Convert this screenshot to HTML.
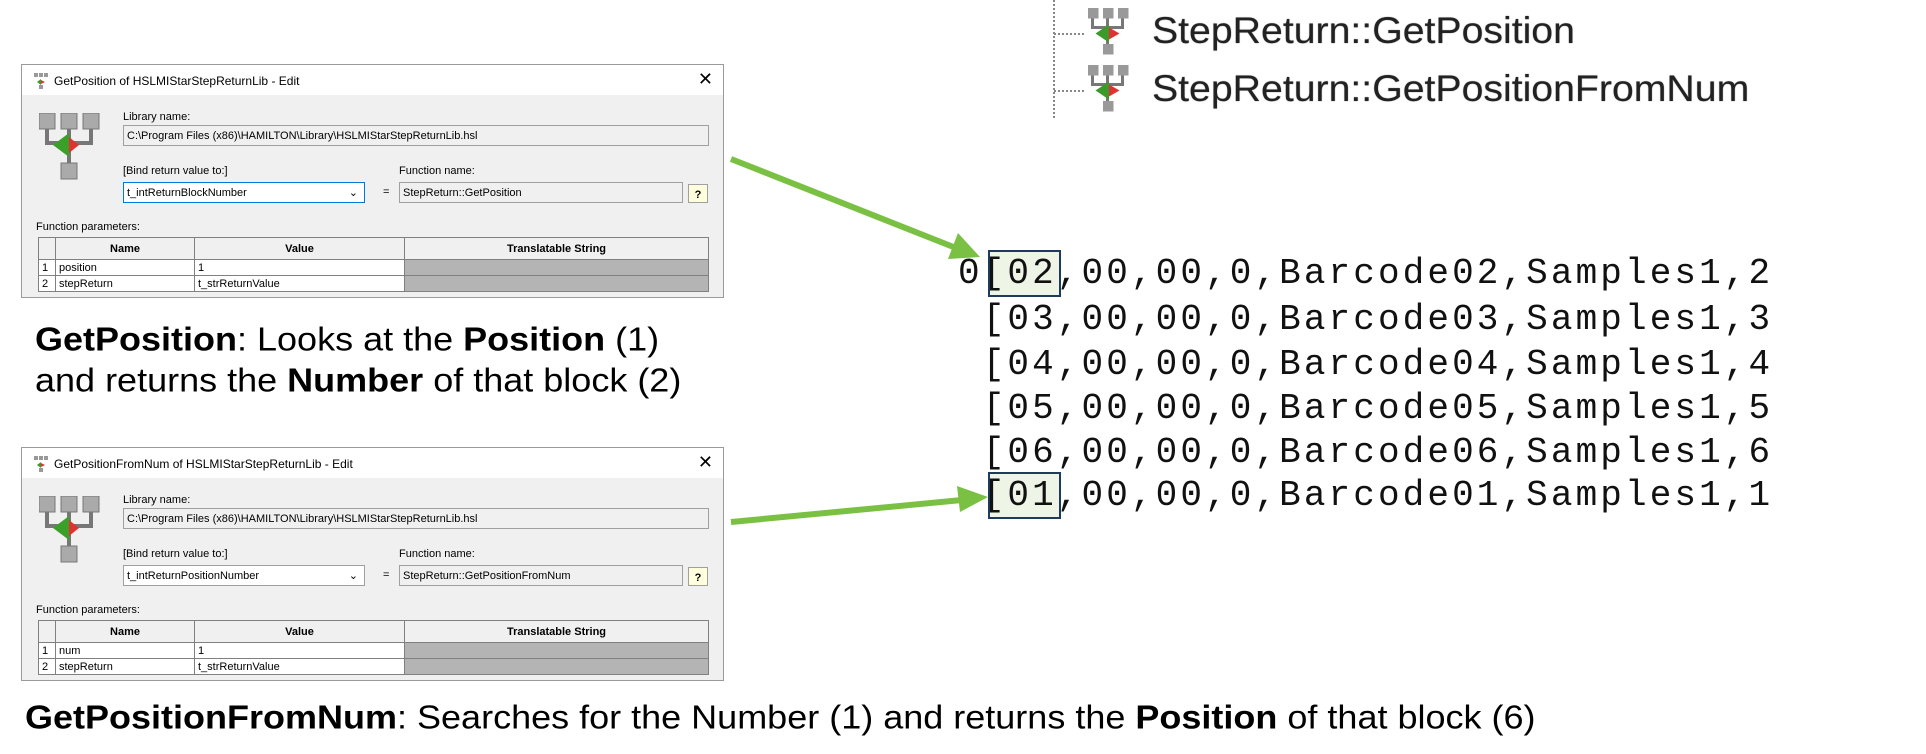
<!DOCTYPE html>
<html><head><meta charset="utf-8"><style>
body{margin:0;width:1926px;height:754px;background:#fff;position:relative;overflow:hidden;font-family:"Liberation Sans",Arial,sans-serif}
.a{position:absolute}
.dlg{position:absolute;left:21px;width:701px;height:232px;border:1px solid #9a9a9a;background:#f0f0f0;overflow:hidden;font-family:"Liberation Sans Narrow","Liberation Sans",sans-serif;font-size:11px;color:#000}
.dlg .tb{position:absolute;left:0;top:0;right:0;height:30px;background:#fff}
.dlg .tb span{position:absolute;left:32px;top:9px;font-size:12px}
.dlg .tb .x{left:auto;right:10px;top:4px;font-size:18px;font-weight:normal}
.fld{position:absolute;border:1px solid #a0a0a0;background:#f0f0f0;height:21px;line-height:21px;padding-left:3px;box-sizing:border-box}
.lbl{position:absolute}
table{position:absolute;left:16px;top:172px;border-collapse:collapse;width:671px;background:#fff}
td{border:1px solid #808080;height:15px;padding:0 3px;font-size:11px}
th{border:1px solid #808080;height:19px;font-size:11px;background:#f0f0f0}
.big{font-size:30px;color:#000;white-space:nowrap;transform:scale(1.2,1.1);transform-origin:left top}
.code{position:absolute;font-family:"Liberation Mono",monospace;font-size:36px;letter-spacing:3.1px;white-space:pre;color:#111;left:958px}
.tree{position:absolute;left:1152px;font-size:37px;color:#222;white-space:nowrap;text-shadow:0 0 1px #666;transform:scaleX(1.06);transform-origin:left top}
.hl{position:absolute;left:988px;width:69px;height:43px;border:2px solid #1f3b5c;background:#eef5e6}
</style></head><body>

<svg class="a" style="left:0;top:0" width="1926" height="754">
<line x1="1054" y1="0" x2="1054" y2="118" stroke="#888" stroke-width="2" stroke-dasharray="2,2"/>
<line x1="1054" y1="34" x2="1086" y2="34" stroke="#888" stroke-width="2" stroke-dasharray="2,2"/>
<line x1="1054" y1="91" x2="1086" y2="91" stroke="#888" stroke-width="2" stroke-dasharray="2,2"/>
<g id="ic" transform="translate(1088,8) scale(1.5)"><rect x="0" y="0" width="7" height="7" fill="#999"/><rect x="10" y="0" width="7" height="7" fill="#999"/><rect x="20" y="0" width="7" height="7" fill="#999"/><path d="M3 7v6h20v-6M13 7v18" stroke="#777" stroke-width="2" fill="none"/><polygon points="5,17 14,11 14,23" fill="#3a9a2a"/><polygon points="14,13 21,17 14,21" fill="#d33"/><rect x="10" y="24" width="7" height="7" fill="#999"/></g>
<use href="#ic" y="57"/>
<line x1="731" y1="159" x2="956" y2="248" stroke="#7ac143" stroke-width="6"/>
<polygon points="980,257 948,259 958,233" fill="#7ac143"/>
<line x1="731" y1="522" x2="962" y2="500" stroke="#7ac143" stroke-width="6"/>
<polygon points="988,497 960,512 957,486" fill="#7ac143"/>
</svg>

<div class="tree" style="top:10px">StepReturn::GetPosition</div>
<div class="tree" style="top:68px">StepReturn::GetPositionFromNum</div>

<div class="hl" style="top:250px"></div>
<div class="hl" style="top:472px"></div>
<div class="code" style="top:253px">0[02,00,00,0,Barcode02,Samples1,2</div>
<div class="code" style="top:299px"> [03,00,00,0,Barcode03,Samples1,3</div>
<div class="code" style="top:344px"> [04,00,00,0,Barcode04,Samples1,4</div>
<div class="code" style="top:388px"> [05,00,00,0,Barcode05,Samples1,5</div>
<div class="code" style="top:432px"> [06,00,00,0,Barcode06,Samples1,6</div>
<div class="code" style="top:475px"> [01,00,00,0,Barcode01,Samples1,1</div>

<div class="dlg" style="top:64px">
<div class="tb"><svg class="a" style="left:12px;top:8px" width="14" height="16"><rect x="0" y="0" width="4" height="4" fill="#999"/><rect x="5" y="0" width="4" height="4" fill="#999"/><rect x="10" y="0" width="4" height="4" fill="#999"/><polygon points="3,9 7,6 7,12" fill="#3a9a2a"/><polygon points="7,7 11,9 7,11" fill="#d33"/><rect x="5" y="12" width="4" height="4" fill="#999"/></svg><span>GetPosition of HSLMIStarStepReturnLib - Edit</span><span class="x">✕</span></div>
<div class="a" style="left:17px;top:48px;width:62px;height:66px"><svg width="64" height="70"><rect x="0" y="0" width="16" height="16" fill="#aaa" stroke="#777"/><rect x="22" y="0" width="16" height="16" fill="#aaa" stroke="#777"/><rect x="44" y="0" width="16" height="16" fill="#aaa" stroke="#777"/><path d="M8 16v14h44v-14M30 16v40" stroke="#777" stroke-width="4" fill="none"/><polygon points="14,32 30,20 30,44" fill="#3aa02a"/><polygon points="30,24 40,32 30,40" fill="#d33"/><rect x="22" y="50" width="16" height="16" fill="#aaa" stroke="#777"/></svg></div>
<div class="lbl" style="left:101px;top:46px">Library name:</div>
<div class="fld" style="left:101px;top:60px;width:586px">C:\Program Files (x86)\HAMILTON\Library\HSLMIStarStepReturnLib.hsl</div>
<div class="lbl" style="left:101px;top:100px">[Bind return value to:]</div>
<div class="fld" style="left:101px;top:117px;width:242px;background:#fff;border-color:#0078d7">t_intReturnBlockNumber<span style="position:absolute;right:6px">⌄</span></div>
<div class="lbl" style="left:361px;top:121px">=</div>
<div class="lbl" style="left:377px;top:100px">Function name:</div>
<div class="fld" style="left:377px;top:117px;width:284px">StepReturn::GetPosition</div>
<div class="fld" style="left:666px;top:119px;width:20px;height:19px;background:#ffd;font-weight:bold;text-align:center;padding:0">?</div>
<div class="lbl" style="left:14px;top:156px">Function parameters:</div>
<table><tr><th style="width:14px"></th><th style="width:136px">Name</th><th style="width:207px">Value</th><th>Translatable String</th></tr>
<tr><td>1</td><td>position</td><td>1</td><td style="background:#b4b4b4"></td></tr>
<tr><td>2</td><td>stepReturn</td><td>t_strReturnValue</td><td style="background:#b4b4b4"></td></tr></table>
</div>

<div class="a big" style="left:35px;top:322px"><b>GetPosition</b>: Looks at the <b>Position</b> (1)</div>
<div class="a big" style="left:35px;top:363px">and returns the <b>Number</b> of that block (2)</div>

<div class="dlg" style="top:447px">
<div class="tb"><svg class="a" style="left:12px;top:8px" width="14" height="16"><rect x="0" y="0" width="4" height="4" fill="#999"/><rect x="5" y="0" width="4" height="4" fill="#999"/><rect x="10" y="0" width="4" height="4" fill="#999"/><polygon points="3,9 7,6 7,12" fill="#3a9a2a"/><polygon points="7,7 11,9 7,11" fill="#d33"/><rect x="5" y="12" width="4" height="4" fill="#999"/></svg><span>GetPositionFromNum of HSLMIStarStepReturnLib - Edit</span><span class="x">✕</span></div>
<div class="a" style="left:17px;top:48px;width:62px;height:66px"><svg width="64" height="70"><rect x="0" y="0" width="16" height="16" fill="#aaa" stroke="#777"/><rect x="22" y="0" width="16" height="16" fill="#aaa" stroke="#777"/><rect x="44" y="0" width="16" height="16" fill="#aaa" stroke="#777"/><path d="M8 16v14h44v-14M30 16v40" stroke="#777" stroke-width="4" fill="none"/><polygon points="14,32 30,20 30,44" fill="#3aa02a"/><polygon points="30,24 40,32 30,40" fill="#d33"/><rect x="22" y="50" width="16" height="16" fill="#aaa" stroke="#777"/></svg></div>
<div class="lbl" style="left:101px;top:46px">Library name:</div>
<div class="fld" style="left:101px;top:60px;width:586px">C:\Program Files (x86)\HAMILTON\Library\HSLMIStarStepReturnLib.hsl</div>
<div class="lbl" style="left:101px;top:100px">[Bind return value to:]</div>
<div class="fld" style="left:101px;top:117px;width:242px;background:#fff">t_intReturnPositionNumber<span style="position:absolute;right:6px">⌄</span></div>
<div class="lbl" style="left:361px;top:121px">=</div>
<div class="lbl" style="left:377px;top:100px">Function name:</div>
<div class="fld" style="left:377px;top:117px;width:284px">StepReturn::GetPositionFromNum</div>
<div class="fld" style="left:666px;top:119px;width:20px;height:19px;background:#ffd;font-weight:bold;text-align:center;padding:0">?</div>
<div class="lbl" style="left:14px;top:156px">Function parameters:</div>
<table><tr><th style="width:14px"></th><th style="width:136px">Name</th><th style="width:207px">Value</th><th>Translatable String</th></tr>
<tr><td>1</td><td>num</td><td>1</td><td style="background:#b4b4b4"></td></tr>
<tr><td>2</td><td>stepReturn</td><td>t_strReturnValue</td><td style="background:#b4b4b4"></td></tr></table>
</div>

<div class="a big" style="left:25px;top:700px"><b>GetPositionFromNum</b>: Searches for the Number (1) and returns the <b>Position</b> of that block (6)</div>
</body></html>
